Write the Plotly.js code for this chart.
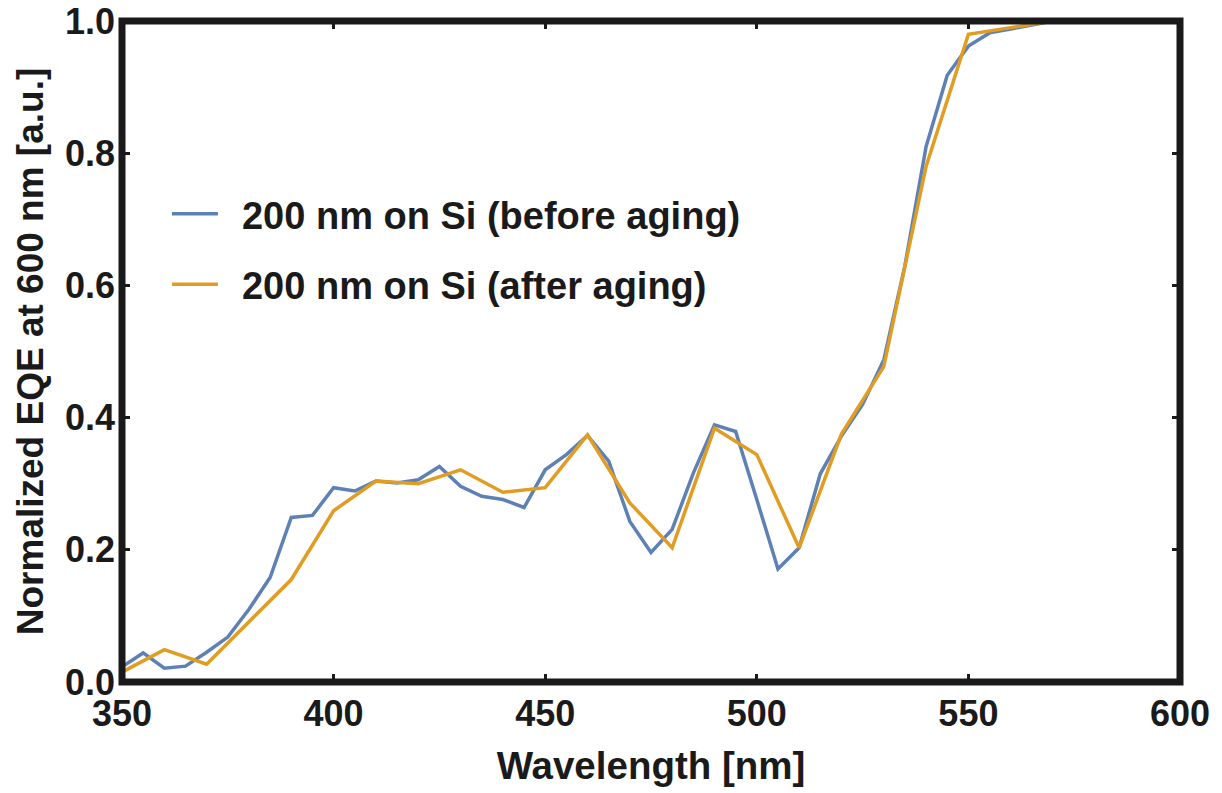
<!DOCTYPE html>
<html>
<head>
<meta charset="utf-8">
<script src="https://cdn.plot.ly/plotly-3.0.1.min.js"></script>
<style>html,body{margin:0;padding:0;background:#fff;}#chart{width:1222px;height:793px;}</style>
</head>
<body>
<div id="chart"></div>
<script>
// Wavelength grids (nm)
const wavelengthBefore = [350,355,360,365,370,375,380,385,390,395,400,405,410,415,420,425,430,435,440,445,450,455,460,465,470,475,480,485,490,495,500,505,510,515,520,525,530,535,540,545,550,555,560,565,570,575,580,585,590,595,600];
const eqeBefore = [0.023,0.044,0.021,0.024,0.045,0.068,0.110,0.158,0.249,0.252,0.294,0.289,0.304,0.301,0.306,0.326,0.296,0.281,0.276,0.264,0.321,0.344,0.373,0.334,0.243,0.196,0.231,0.316,0.389,0.379,0.276,0.171,0.203,0.315,0.372,0.420,0.487,0.630,0.810,0.918,0.962,0.982,0.988,0.994,1.000,1.000,1.000,1.000,1.000,1.000,1.000];

const wavelengthAfter = [350,360,370,380,390,400,410,420,430,440,450,460,470,480,490,500,510,520,530,540,550,560,570,580,590,600];
const eqeAfter = [0.015,0.049,0.027,0.091,0.155,0.259,0.304,0.300,0.321,0.287,0.294,0.374,0.271,0.203,0.384,0.344,0.203,0.375,0.477,0.780,0.980,0.990,1.000,1.000,1.000,1.000];

const seriesNames = ["200 nm on Si (before aging)", "200 nm on Si (after aging)"];
const xTicks = [350,400,450,500,550,600];
const yTicks = [0.0,0.2,0.4,0.6,0.8,1.0];

const FONT = "Liberation Sans, Arial, sans-serif";
const DARK = "#1a1a1a";
const GAP = "\u2002"; // spacing between legend line and label

const traces = [
  {x: wavelengthBefore, y: eqeBefore, name: GAP + seriesNames[0], mode: "lines", legendgroup: "a",
   line: {color: "#5E81B5", width: 3.5}},
  {x: wavelengthAfter, y: eqeAfter, name: GAP + seriesNames[1], mode: "lines", legendgroup: "b",
   line: {color: "#E19C24", width: 3.5}}
];

const axisCommon = {
  showgrid: false, zeroline: false, showline: false,
  ticks: "inside", ticklen: 8, tickwidth: 3, tickcolor: DARK, mirror: "ticks",
  tickfont: {family: FONT, size: 36, color: DARK, weight: "bold"}
};

const layout = {
  width: 1222, height: 793,
  margin: {l: 122, r: 42, t: 21, b: 111},
  paper_bgcolor: "#fff", plot_bgcolor: "#fff",
  showlegend: true,
  legend: {
    x: 0.0425, y: 0.655, xanchor: "left", yanchor: "middle",
    bgcolor: "rgba(0,0,0,0)", traceorder: "grouped", tracegroupgap: 18,
    itemwidth: 46,
    font: {family: FONT, size: 38, color: DARK, weight: "bold"}
  },
  xaxis: Object.assign({}, axisCommon, {
    range: [350, 600], tickvals: xTicks, ticktext: xTicks.map(String),
    ticklabelstandoff: 7,
    title: {text: "Wavelength [nm]", standoff: 19,
            font: {family: FONT, size: 38.5, color: DARK, weight: "bold"}}
  }),
  yaxis: Object.assign({}, axisCommon, {
    range: [0, 1], tickvals: yTicks, ticktext: yTicks.map(v => v.toFixed(1)),
    ticklabelstandoff: 6,
    title: {text: "Normalized EQE at 600 nm [a.u.]", standoff: 10,
            font: {family: FONT, size: 37, color: DARK, weight: "bold"}}
  }),
  shapes: [{type: "rect", xref: "paper", yref: "paper", x0: 0, x1: 1, y0: 0, y1: 1,
            line: {color: DARK, width: 7}, fillcolor: "rgba(0,0,0,0)", layer: "above"}]
};

Plotly.newPlot("chart", traces, layout, {displayModeBar: false, staticPlot: true});
</script>
</body>
</html>
